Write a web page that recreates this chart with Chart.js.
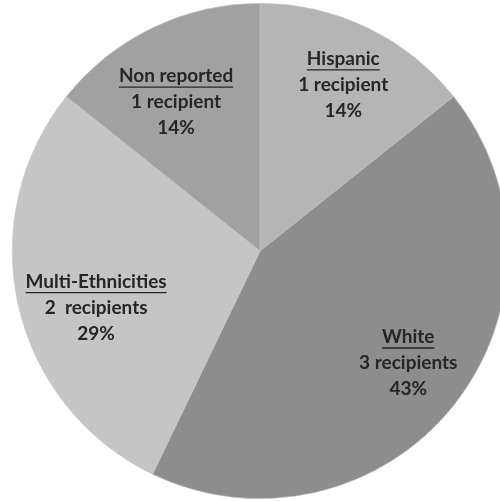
<!DOCTYPE html>
<html>
<head>
<meta charset="utf-8">
<script src="https://cdn.jsdelivr.net/npm/chart.js@4"></script>
<style>
  html, body { margin: 0; padding: 0; background: #fff; overflow: hidden; }
  #wrap { position: relative; width: 500px; height: 501px; overflow: hidden; }
  #pie { position: absolute; left: 0; top: 0; }
</style>
</head>
<body>
<div id="wrap"><canvas id="pie" width="520" height="501"></canvas></div>
<script>
// Daten
const categories = ['Hispanic', 'White', 'Multi-Ethnicities', 'Non reported'];
const recipients = [1, 3, 2, 1];
const recipientTexts = ['1 recipient', '3 recipients', '2  recipients', '1 recipient'];
const percentTexts = ['14%', '43%', '29%', '14%'];
const sliceColors = ['#b5b5b5', '#8d8d8d', '#c5c5c5', '#a1a1a1'];

// Lage der Beschriftung: Anteil am Radius und Winkelkorrektur (Grad)
const labelRadius = [0.75, 0.75, 0.70, 0.69];
const labelAngleShift = [0.9, -1.5, -6.2, -3.7];

// Beschriftungen direkt in die Segmente zeichnen
const sliceLabels = {
    id: 'sliceLabels',
    afterDatasetsDraw(chart) {
        const ctx = chart.ctx;
        const arcs = chart.getDatasetMeta(0).data;
        ctx.save();
        ctx.font = 'bold 19px Lato';
        ctx.fillStyle = '#262626';
        ctx.strokeStyle = '#262626';
        ctx.textAlign = 'center';
        ctx.textBaseline = 'middle';
        arcs.forEach((arc, i) => {
            const mid = (arc.startAngle + arc.endAngle) / 2 + labelAngleShift[i] * Math.PI / 180;
            const r = arc.outerRadius * labelRadius[i];
            const x = arc.x + Math.cos(mid) * r;
            const y = arc.y + Math.sin(mid) * r;
            const lines = [categories[i], recipientTexts[i], percentTexts[i]];
            lines.forEach((t, j) => {
                const ly = y + (j - 1) * 26;
                ctx.fillText(t, x, ly);
                if (j === 0) {
                    const w = ctx.measureText(t).width;
                    ctx.lineWidth = 1.3;
                    ctx.beginPath();
                    ctx.moveTo(x - w / 2, ly + 11);
                    ctx.lineTo(x + w / 2, ly + 11);
                    ctx.stroke();
                }
            });
        });
        ctx.restore();
    }
};

new Chart(document.getElementById('pie'), {
    type: 'pie',
    data: {
        labels: categories,
        datasets: [{
            data: recipients,
            backgroundColor: sliceColors,
            borderColor: '#c4c4c4',
            borderWidth: 0.6
        }]
    },
    options: {
        responsive: false,
        animation: false,
        layout: { padding: { left: 12, right: 12, top: 3, bottom: 2 } },
        plugins: {
            legend: { display: false },
            tooltip: { enabled: false }
        }
    },
    plugins: [sliceLabels]
});
</script>
</body>
</html>
